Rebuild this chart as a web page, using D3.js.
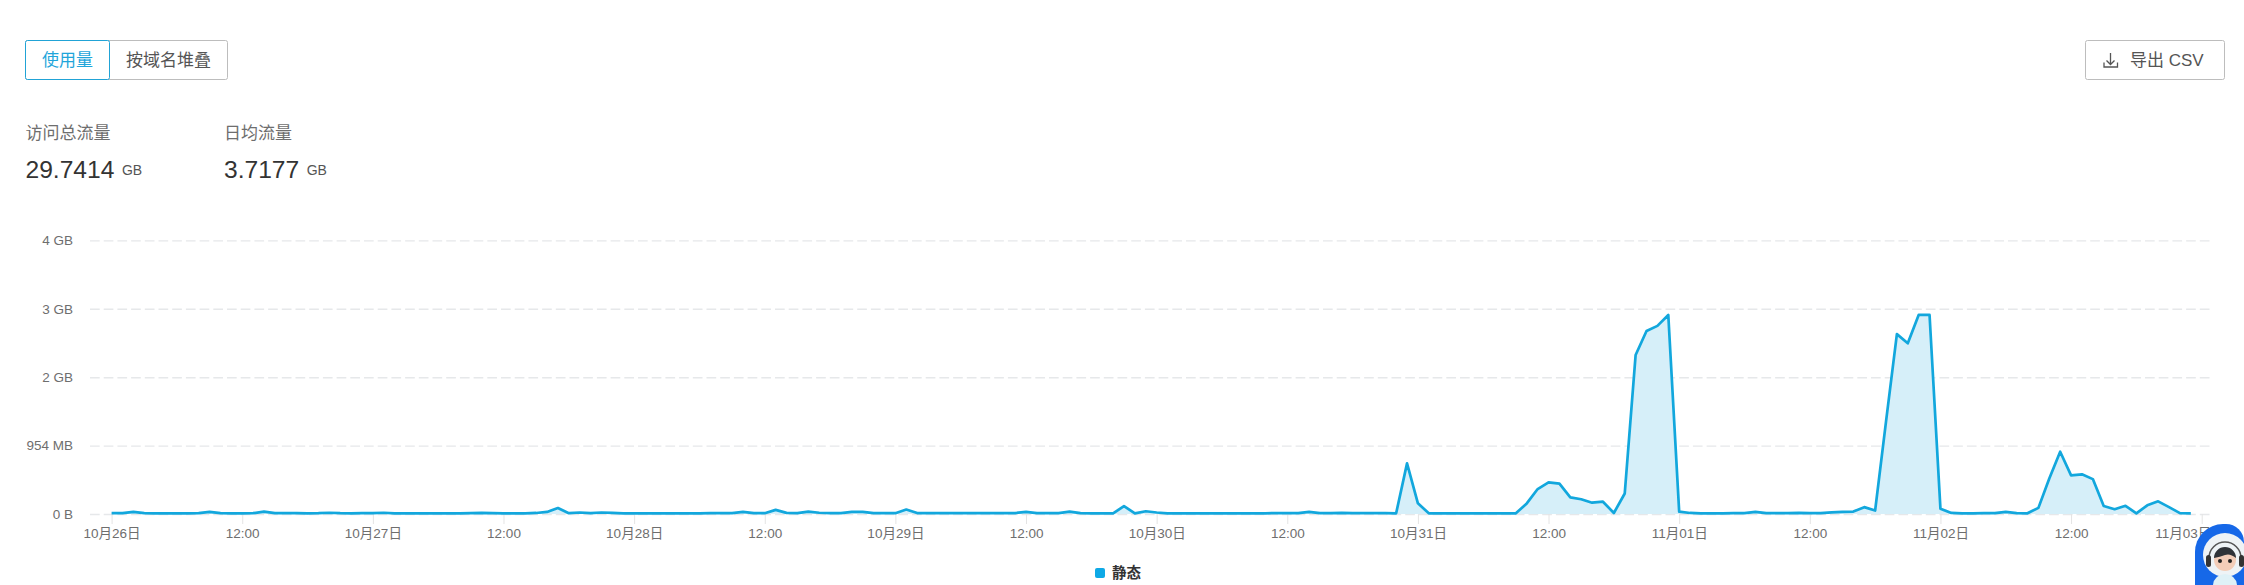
<!DOCTYPE html>
<html>
<head>
<meta charset="utf-8">
<script src="https://cdn.jsdelivr.net/npm/d3@7/dist/d3.min.js"></script>
<style>
html,body{margin:0;padding:0;background:#fff;overflow:hidden}
svg{display:block}
text{font-family:"Liberation Sans","Noto Sans CJK SC",sans-serif}
</style>
</head>
<body>
<svg id="c" width="2244" height="585"></svg>
<script>
// hourly traffic per day, in units of 1e9 bytes
const oct26 = [.012,.012,.03,.012,.01,.01,.01,.01,.012,.03,.012,.01,.01,.012,.035,.012,.012,.012,.01,.012,.018,.012,.01,.012];
const oct27 = [.012,.018,.01,.01,.01,.01,.01,.01,.01,.012,.016,.012,.01,.01,.01,.015,.03,.088,.012,.022,.012,.022,.016,.01];
const oct28 = [.01,.01,.01,.01,.01,.01,.01,.012,.012,.014,.03,.012,.012,.06,.016,.012,.035,.018,.014,.012,.03,.03,.012,.012];
const oct29 = [.012,.065,.014,.012,.012,.012,.012,.012,.012,.012,.012,.014,.03,.014,.012,.012,.035,.012,.01,.01,.01,.115,.01,.04];
const oct30 = [.022,.01,.01,.01,.01,.01,.01,.01,.01,.01,.01,.014,.012,.014,.03,.014,.014,.016,.014,.012,.012,.012,.01,.74];
const oct31 = [.156,.01,.01,.01,.01,.01,.01,.01,.01,.01,.155,.365,.463,.443,.244,.215,.165,.18,.015,.30,2.325,2.675,2.75,2.91];
const nov01 = [.034,.015,.01,.01,.01,.012,.012,.03,.012,.012,.012,.016,.012,.012,.025,.03,.035,.1,.05,1.35,2.63,2.495,2.91,2.91];
const nov02 = [.078,.015,.01,.01,.012,.012,.03,.014,.01,.09,.52,.91,.565,.58,.51,.117,.07,.12,.01,.127,.185,.1,.012,.01];

const startTime = new Date(2024, 9, 26, 0);
const xTickHours = [0,12,24,36,48,60,72,84,96,108,120,132,144,156,168,180,192];
const xTickLabels = ["10月26日","12:00","10月27日","12:00","10月28日","12:00","10月29日","12:00","10月30日","12:00","10月31日","12:00","11月01日","12:00","11月02日","12:00","11月03日"];
const yTickValues = [0,1,2,3,4];
const yTickLabels = ["0 B","954 MB","2 GB","3 GB","4 GB"];
const seriesName = "静态";
const switchLabels = ["使用量","按域名堆叠"];
const statLabels = ["访问总流量","日均流量"];
const statValues = ["29.7414","3.7177"];
const statUnit = "GB";

const values = [].concat(oct26,oct27,oct28,oct29,oct30,oct31,nov01,nov02);
const hourMs = 3600000;
const toTime = h => new Date(+startTime + h * hourMs);
const points = values.map((v,i) => ({t: toTime(i), v}));

const BLUE = "#12a7dd", GREY = "#6e6e6e";
const svg = d3.select("#c");
const x = d3.scaleTime().domain([startTime, toTime(192)]).range([111.6, 2201.7]);
const y = d3.scaleLinear().domain([0,4]).range([514, 240.4]);

// grid
svg.append("g").selectAll("line").data(yTickValues).join("line")
  .attr("x1",90).attr("x2",2213)
  .attr("y1",d=>y(d)+.5).attr("y2",d=>y(d)+.5)
  .attr("stroke","#e6e8ea").attr("stroke-width",1.4).attr("stroke-dasharray","9.7 4");

// y axis
const yAxis = svg.append("g").attr("transform","translate(73,0)")
  .call(d3.axisLeft(y).tickValues(yTickValues).tickSize(0).tickPadding(0).tickFormat((d,i)=>yTickLabels[i]));
yAxis.select(".domain").remove();
yAxis.selectAll("text").attr("fill",GREY).style("font-size","13.5px");

// x axis
const xAxis = svg.append("g").attr("transform","translate(0,514)")
  .call(d3.axisBottom(x).tickValues(xTickHours.map(toTime)).tickSize(10).tickPadding(4).tickFormat((d,i)=>xTickLabels[i]));
xAxis.select(".domain").remove();
xAxis.selectAll("line").attr("stroke","#e4e4e4");
xAxis.selectAll("text").attr("fill",GREY).style("font-size","13.5px");
// the last label is pulled back inside the plot, as in the reference
xAxis.selectAll(".tick:last-of-type text").attr("text-anchor","end").attr("x",9);

// area + line
svg.append("path").datum(points)
  .attr("d", d3.area().x(d=>x(d.t)).y0(y(0)).y1(d=>y(d.v)))
  .attr("fill","#d6eff9");
svg.append("path").datum(points)
  .attr("d", d3.line().x(d=>x(d.t)).y(d=>y(d.v)))
  .attr("fill","none").attr("stroke",BLUE).attr("stroke-width",2.7).attr("stroke-linejoin","round");

// legend
svg.append("rect").attr("x",1095).attr("y",568).attr("width",10).attr("height",10).attr("rx",2).attr("fill","#0ea9e6");
svg.append("text").attr("x",1112).attr("y",577.5).text(seriesName)
  .attr("fill","#333").style("font-size","14.5px").style("font-weight","700");

// switch buttons
svg.append("rect").attr("x",25.5).attr("y",40.5).attr("width",202).attr("height",39).attr("rx",2).attr("fill","#fff").attr("stroke","#bdbdbd");
svg.append("rect").attr("x",25.5).attr("y",40.5).attr("width",84).attr("height",39).attr("rx",2).attr("fill","#fff").attr("stroke","#21a3d6");
svg.append("text").attr("x",67.5).attr("y",65.5).attr("text-anchor","middle").text(switchLabels[0]).attr("fill","#1fa5da").style("font-size","17px");
svg.append("text").attr("x",168.5).attr("y",65.5).attr("text-anchor","middle").text(switchLabels[1]).attr("fill","#555").style("font-size","17px");

// stats
const statX = [25.5, 224];
statLabels.forEach((s,i)=>{
  svg.append("text").attr("x",statX[i]).attr("y",139).text(s).attr("fill",GREY).style("font-size","17px");
  const t = svg.append("text").attr("x",statX[i]).attr("y",178).text(statValues[i]).attr("fill","#333").style("font-size","24.6px");
  const w = t.node().getComputedTextLength();
  svg.append("text").attr("x",statX[i]+w+7.5).attr("y",175).text(statUnit).attr("fill","#555").style("font-size","14px");
});

// export button
svg.append("rect").attr("x",2085.5).attr("y",40.5).attr("width",139).attr("height",39).attr("rx",2).attr("fill","#fff").attr("stroke","#bdbdbd");
svg.append("path").attr("d","M2110.5 53v11M2106.5 60.5l4 4 4-4M2104 62.5v4.5h13.5v-4.5")
  .attr("fill","none").attr("stroke","#555").attr("stroke-width",1.3);
svg.append("text").attr("x",2130).attr("y",66).text("导出 CSV").attr("fill","#555").style("font-size","17px");

// assistant avatar
svg.append("path").attr("d","M2195 585v-33a28 28 0 0 1 28-28h3a18 18 0 0 1 18 18v43z").attr("fill","#1668e8");
svg.append("circle").attr("cx",2225).attr("cy",555).attr("r",22).attr("fill","#eef3f6");
svg.append("path").attr("d","M2209 558a16 16 0 0 1 32 0").attr("fill","none").attr("stroke","#555").attr("stroke-width",1.5);
svg.append("rect").attr("x",2206).attr("y",555).attr("width",5).attr("height",12).attr("rx",2.5).attr("fill","#333");
svg.append("rect").attr("x",2239).attr("y",555).attr("width",5).attr("height",12).attr("rx",2.5).attr("fill","#333");
svg.append("ellipse").attr("cx",2225).attr("cy",560).attr("rx",11).attr("ry",11).attr("fill","#f3cdb8");
svg.append("path").attr("d","M2214 558a11 11 0 0 1 22 0q-6-5-11-3q-5 2-11 3z").attr("fill","#2f3338");
svg.append("circle").attr("cx",2220).attr("cy",561).attr("r",2).attr("fill","#222");
svg.append("circle").attr("cx",2230).attr("cy",561).attr("r",2).attr("fill","#222");
svg.append("path").attr("d","M2213 585q1-10 12-11q11 1 12 11z").attr("fill","#dff1f7");
</script>
</body>
</html>
